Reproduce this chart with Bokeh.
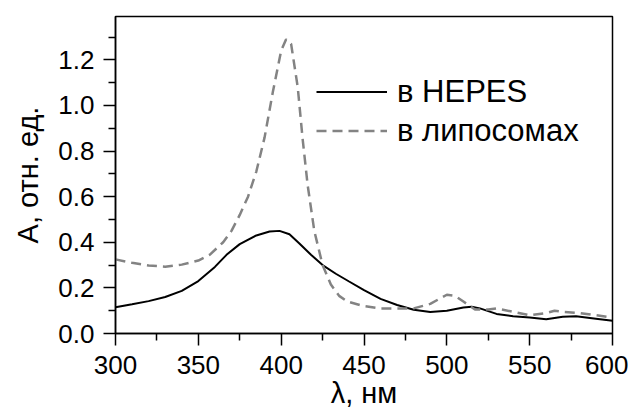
from bokeh.plotting import figure
from bokeh.models import (FixedTicker, PrintfTickFormatter, Legend, LegendItem,
                          Range1d)
from bokeh.embed import file_html
from bokeh.resources import INLINE

# ---- data ----
hepes_wl = [300, 310, 320, 330, 340, 350, 360, 367, 375, 385, 393, 399, 405,
            411, 418, 425, 433, 441, 450, 460, 470, 480, 490, 500, 510, 515,
            520, 530, 540, 550, 560, 570, 578, 590, 600]
hepes_a = [0.115, 0.128, 0.142, 0.160, 0.187, 0.230, 0.292, 0.345, 0.392,
           0.430, 0.447, 0.450, 0.435, 0.395, 0.345, 0.300, 0.262, 0.228,
           0.190, 0.152, 0.125, 0.104, 0.094, 0.100, 0.114, 0.117, 0.110,
           0.086, 0.076, 0.070, 0.062, 0.073, 0.076, 0.065, 0.056]

lipo_wl = [300, 310, 320, 330, 340, 350, 357, 365, 370, 375, 380, 385, 390,
           395, 400, 403, 406, 410, 413, 416, 420, 425, 430, 435, 440, 450,
           460, 470, 480, 490, 500, 505, 510, 517, 525, 530, 540, 550, 560,
           565, 570, 580, 590, 600]
lipo_a = [0.325, 0.310, 0.298, 0.293, 0.302, 0.320, 0.346, 0.400, 0.450,
          0.520, 0.600, 0.710, 0.860, 1.060, 1.240, 1.290, 1.270, 1.080,
          0.850, 0.650, 0.450, 0.300, 0.215, 0.165, 0.140, 0.120, 0.110,
          0.110, 0.110, 0.130, 0.170, 0.165, 0.140, 0.105, 0.105, 0.110,
          0.095, 0.080, 0.090, 0.100, 0.095, 0.090, 0.080, 0.070]

x_ticks = [300, 350, 400, 450, 500, 550, 600]
x_minor = [325, 375, 425, 475, 525, 575]
y_ticks = [0.0, 0.2, 0.4, 0.6, 0.8, 1.0, 1.2]
y_minor = [0.1, 0.3, 0.5, 0.7, 0.9, 1.1, 1.3]

label_hepes = "в HEPES"
label_lipo = "в липосомах"
x_title = "λ, нм"
y_title = "А, отн. ед."

FONT = "Liberation Sans"

p = figure(width=628, height=411, output_backend="svg", toolbar_location=None,
           x_range=Range1d(300, 600), y_range=Range1d(0, 1.39),
           min_border_left=115, min_border_right=16, min_border_top=16,
           min_border_bottom=77)

p.xgrid.visible = False
p.ygrid.visible = False
p.background_fill_color = "white"
p.border_fill_color = "white"
p.outline_line_color = "black"
p.outline_line_width = 1.5

r1 = p.line(hepes_wl, hepes_a, line_color="black", line_width=2)
r2 = p.line(lipo_wl, lipo_a, line_color="#838383", line_width=2.5,
            line_dash="10 6")

for ax in (p.xaxis[0], p.yaxis[0]):
    ax.axis_line_color = "black"
    ax.axis_line_width = 1.5
    ax.major_tick_line_color = "black"
    ax.major_tick_line_width = 1.5
    ax.minor_tick_line_color = "black"
    ax.minor_tick_line_width = 1.5
    ax.major_tick_out = 12
    ax.major_tick_in = 0
    ax.minor_tick_out = 7
    ax.minor_tick_in = 0
    ax.major_label_text_font = FONT
    ax.major_label_text_font_size = "26px"
    ax.major_label_text_color = "black"
    ax.axis_label_text_font = FONT
    ax.axis_label_text_font_size = "29px"
    ax.axis_label_text_font_style = "normal"
    ax.axis_label_text_color = "black"

p.xaxis[0].ticker = FixedTicker(ticks=x_ticks, minor_ticks=x_minor)
p.yaxis[0].ticker = FixedTicker(ticks=y_ticks, minor_ticks=y_minor)
p.yaxis[0].formatter = PrintfTickFormatter(format="%.1f")
p.xaxis[0].axis_label = x_title
p.yaxis[0].axis_label = y_title
p.xaxis[0].major_label_standoff = 10
p.xaxis[0].axis_label_standoff = 0
p.yaxis[0].major_label_standoff = 9
p.yaxis[0].axis_label_standoff = 11

legend = Legend(items=[LegendItem(label=label_hepes, renderers=[r1]),
                       LegendItem(label=label_lipo, renderers=[r2])],
                location=(201, 183), padding=0, margin=0, spacing=0,
                glyph_width=71, glyph_height=39, label_height=39,
                label_standoff=10, border_line_color=None,
                background_fill_alpha=0,
                label_text_font=FONT, label_text_font_size="31px",
                label_text_color="black")
p.add_layout(legend, "center")

open("out.html", "w").write(file_html(p, INLINE))
